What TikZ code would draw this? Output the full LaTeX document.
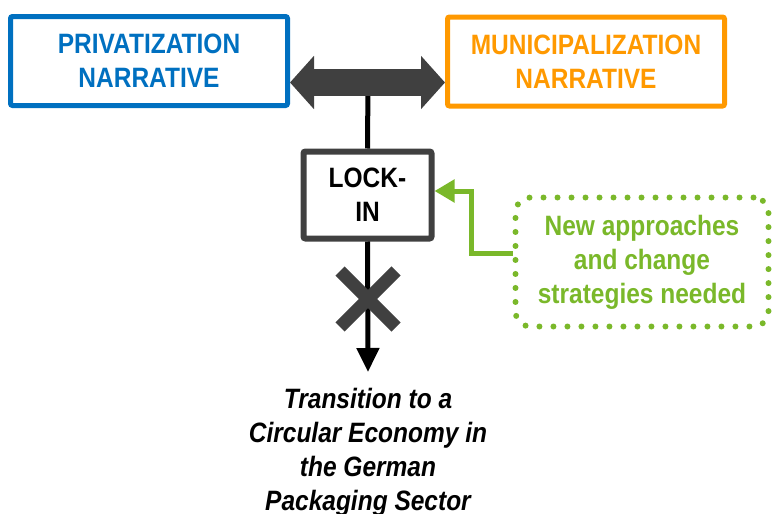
\documentclass[tikz,border=0pt]{standalone}
\usepackage{fontspec}
\setmainfont{Liberation Sans}[FakeStretch=0.875]
\usetikzlibrary{arrows.meta}
\definecolor{pblue}{HTML}{0070C0}
\definecolor{morange}{HTML}{FF9900}
\definecolor{dgray}{HTML}{404040}
\definecolor{ngreen}{HTML}{7AB82A}
\tikzset{
  bigtxt/.style={font=\fontsize{28}{34}\selectfont\bfseries, align=center, inner sep=0pt},
  narr/.style={bigtxt, draw, line width=5pt, rounded corners=2pt, minimum width=277pt, minimum height=89pt},
  lockbox/.style={bigtxt, draw=dgray, line width=6pt, rounded corners=2pt, minimum width=128pt, minimum height=87pt},
  needbox/.style={bigtxt, text=ngreen, draw=ngreen, line width=6pt, line cap=round, dash pattern=on 0pt off 14pt, rounded corners=15pt, minimum width=253pt, minimum height=129pt},
  goaltxt/.style={font=\fontsize{28}{34}\selectfont\bfseries\itshape, align=center, inner sep=0pt},
  blackline/.style={line width=5pt, black},
  garrow/.style={line width=5pt, ngreen, -{Triangle[length=20pt,width=22pt]}},
  cross/.style={line width=13pt, dgray}
}
\begin{document}
\begin{tikzpicture}[x=1pt,y=-1pt]
\useasboundingbox (0,0) rectangle (772,514);
\node[narr, draw=pblue, text=pblue] (priv) at (149,61) {PRIVATIZATION\\NARRATIVE};
\node[narr, draw=morange, text=morange] (muni) at (586,61.5) {MUNICIPALIZATION\\NARRATIVE};
\node[lockbox] (lock) at (367.5,195) {LOCK-\\IN};
\node[needbox] (need) at (642,262) {New approaches\\and change\\strategies needed};
\node[goaltxt, anchor=north] (goal) at (368,388) {Transition to a\\Circular Economy in\\the German\\Packaging Sector};
\coordinate (ay) at (368,82.5);
% vertical connector
\draw[blackline] (ay) -- (lock.north);
% double arrow
\draw[dgray, line width=27pt, {Triangle[length=24pt,width=52pt]}-{Triangle[length=24pt,width=52pt]}] (priv.east |- ay) -- (muni.west |- ay);
% arrow down to goal
\draw[blackline, -{Triangle[length=24pt,width=22pt]}] (lock.south) -- ([yshift=16pt]goal.north);
% cross
\draw[cross] (340,271) -- (396,327) (340,327) -- (396,271);
% green connector
\draw[garrow] ([yshift=9pt]need.west) -| (471,191) -- ([yshift=4pt]lock.east);
\end{tikzpicture}
\end{document}
